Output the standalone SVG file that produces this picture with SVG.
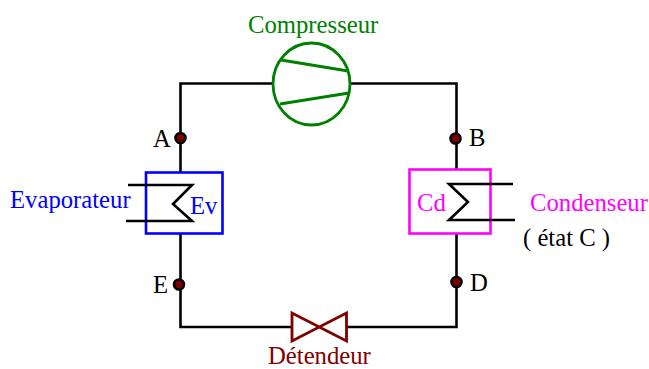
<svg xmlns="http://www.w3.org/2000/svg" width="649" height="369" viewBox="0 0 649 369">
<style>
text{font-family:"Liberation Serif","Times New Roman",serif;font-size:24.700px}
.w{fill:none;stroke:#000;stroke-width:2.600}
.p{fill:#800000;stroke:#000;stroke-width:2.600}
.g{fill:none;stroke:#008000;stroke-width:2.800}
</style>
<rect width="649" height="369" fill="#fff"/>
<g id="connectors">
<path class="w" d="M273 83.500H180.500V172M180.500 234V327H292M346 327H456.500V234M456.500 169V83.500H350"/>
</g>
<g id="compresseur">
<ellipse class="g" cx="311.500" cy="84" rx="38.500" ry="41"/>
<path class="g" d="M281 60L348 71M280 104L349 93"/>
<text x="248" y="33" fill="#008000">Compresseur</text>
</g>
<g id="evaporateur">
<rect x="146" y="172.500" width="76.500" height="61" fill="none" stroke="#0000ff" stroke-width="2.600"/>
<path class="w" d="M128 185H192L173 204L192 221H126"/>
<text x="10" y="208" fill="#0000ff">Evaporateur</text>
<text x="190" y="214" fill="#0000ff">Ev</text>
</g>
<g id="condenseur">
<rect x="409.500" y="169.500" width="81" height="64" fill="none" stroke="#ff00ff" stroke-width="2.600"/>
<path class="w" d="M513 184H449L468 202L449 220H515"/>
<text x="417" y="211" fill="#ff00ff">Cd</text>
<text x="530" y="211" fill="#ff00ff">Condenseur</text>
<text x="523" y="246" fill="#000">( état C )</text>
</g>
<g id="detendeur">
<path fill="none" stroke="#800000" stroke-width="2.800" d="M292 313V341L346.500 313V341Z"/>
<text x="268" y="363.500" fill="#800000">Détendeur</text>
</g>
<g id="point-a"><circle class="p" cx="180.500" cy="138" r="5"/><text x="153" y="147" fill="#000">A</text></g>
<g id="point-b"><circle class="p" cx="455.500" cy="138.500" r="5"/><text x="469" y="146" fill="#000">B</text></g>
<g id="point-e"><circle class="p" cx="179" cy="284.500" r="5"/><text x="153" y="293" fill="#000">E</text></g>
<g id="point-d"><circle class="p" cx="456.500" cy="282" r="5"/><text x="470" y="291" fill="#000">D</text></g>
</svg>
